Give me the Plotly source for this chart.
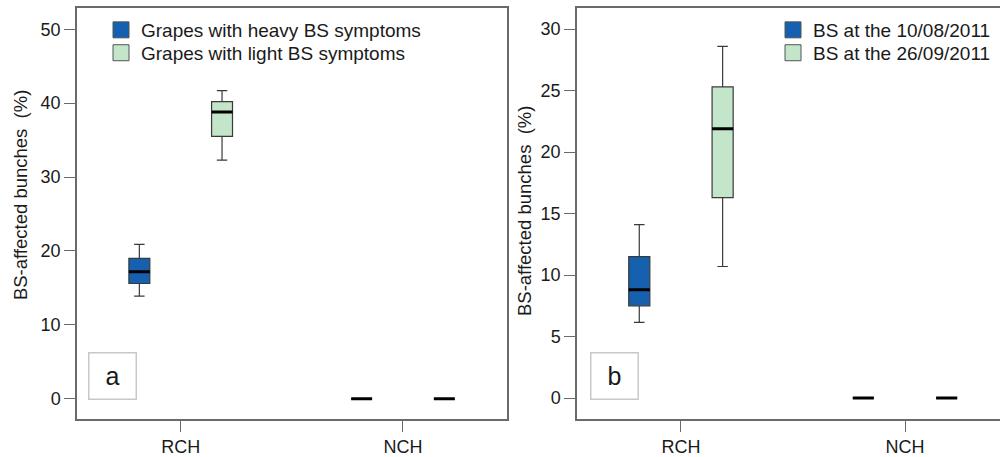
import plotly.graph_objects as go

# ---------------- data ----------------
categories = ["RCH", "NCH"]

# panel a
a_heavy_lower = [13.9, 0]
a_heavy_q1 = [15.6, 0]
a_heavy_median = [17.2, 0]
a_heavy_q3 = [19.0, 0]
a_heavy_upper = [20.9, 0]

a_light_lower = [32.3, 0]
a_light_q1 = [35.5, 0]
a_light_median = [38.8, 0]
a_light_q3 = [40.2, 0]
a_light_upper = [41.7, 0]

# panel b
b_first_lower = [6.15, 0]
b_first_q1 = [7.5, 0]
b_first_median = [8.8, 0]
b_first_q3 = [11.5, 0]
b_first_upper = [14.1, 0]

b_second_lower = [10.7, 0]
b_second_q1 = [16.3, 0]
b_second_median = [21.9, 0]
b_second_q3 = [25.3, 0]
b_second_upper = [28.6, 0]

names_a = ["Grapes with heavy BS symptoms", "Grapes with light BS symptoms"]
names_b = ["BS at the 10/08/2011", "BS at the 26/09/2011"]
y_title = "BS-affected bunches  (%)"
panel_letters = ["a", "b"]

# ---------------- style ----------------
FONT = "Arial, Liberation Sans, sans-serif"
DARK_BLUE = "#1660b0"
LIGHT_GREEN = "#c3e5c9"
OUTLINE = "#3a3a3a"
AXIS = "#6a6a6a"
TXT = "#1a1a1a"

# plot area in pixels (top 8, bottom 421)
TOP, BOTTOM = 8, 421
H_AREA = BOTTOM - TOP


def py(px):
    """pixel row -> paper y (relative to plot area)"""
    return (BOTTOM - px) / H_AREA


fig = go.Figure()


def add_box(name, lo, q1, med, q3, up, color, xa, ya, group, legend):
    fig.add_trace(go.Box(
        name=name, x=categories, lowerfence=lo, q1=q1, median=med, q3=q3,
        upperfence=up, fillcolor=color, line=dict(color=OUTLINE, width=1.2),
        whiskerwidth=0.5, boxpoints=False, xaxis=xa, yaxis=ya,
        offsetgroup=group, showlegend=False, hoverinfo="skip"))
    # thick median line
    fig.add_trace(go.Box(
        x=categories, lowerfence=med, q1=med, median=med, q3=med, upperfence=med,
        fillcolor="rgba(0,0,0,0)", line=dict(color="black", width=3),
        whiskerwidth=0, boxpoints=False, xaxis=xa, yaxis=ya,
        offsetgroup=group, showlegend=False, hoverinfo="skip"))
    # legend entry (square swatch)
    fig.add_trace(go.Scatter(
        name=name, x=[None], y=[None], mode="markers", xaxis=xa, yaxis=ya,
        marker=dict(symbol="square", size=17, color=color,
                    line=dict(color="#555555", width=1)),
        legend=legend, showlegend=True, hoverinfo="skip"))


add_box(names_a[0], a_heavy_lower, a_heavy_q1, a_heavy_median, a_heavy_q3,
        a_heavy_upper, DARK_BLUE, "x", "y", "g1", "legend")
add_box(names_a[1], a_light_lower, a_light_q1, a_light_median, a_light_q3,
        a_light_upper, LIGHT_GREEN, "x", "y", "g2", "legend2")
add_box(names_b[0], b_first_lower, b_first_q1, b_first_median, b_first_q3,
        b_first_upper, DARK_BLUE, "x2", "y2", "g1", "legend3")
add_box(names_b[1], b_second_lower, b_second_q1, b_second_median, b_second_q3,
        b_second_upper, LIGHT_GREEN, "x2", "y2", "g2", "legend4")

axis_common = dict(showline=True, linecolor=AXIS, linewidth=1.5, ticks="outside",
                   ticklen=11, tickwidth=1.3, tickcolor=AXIS, showgrid=False,
                   zeroline=False, tickfont=dict(family=FONT, size=18, color=TXT))


def legend_at(xpx, ytop_px):
    return dict(x=xpx / 1000, y=py(ytop_px), xanchor="left", yanchor="top",
                bgcolor="rgba(0,0,0,0)", font=dict(family=FONT, size=19, color=TXT),
                itemwidth=30, itemsizing="trace", tracegroupgap=0)


fig.update_layout(
    width=1000, height=457,
    margin=dict(l=0, r=0, t=TOP, b=457 - BOTTOM),
    paper_bgcolor="white", plot_bgcolor="white",
    boxmode="group", boxgap=0.256, boxgroupgap=0.747,
    font=dict(family=FONT, color=TXT),
    xaxis=dict(domain=[0.077, 0.507], type="category", categoryorder="array",
               categoryarray=categories, range=[-0.4665, 1.468], mirror=True,
               anchor="y", **axis_common),
    yaxis=dict(domain=[0, 1], range=[-2.733, 52.87], dtick=10, mirror=True,
               anchor="x", **axis_common),
    xaxis2=dict(domain=[0.577, 1.0], type="category", categoryorder="array",
                categoryarray=categories, range=[-0.464, 1.424], mirror=True,
                anchor="y2", **axis_common),
    yaxis2=dict(domain=[0, 1], range=[-1.70, 31.72], dtick=5, mirror=False,
                anchor="x2", **axis_common),
    legend=legend_at(101, 11),
    legend2=legend_at(101, 34),
    legend3=legend_at(773, 11),
    legend4=legend_at(773, 34),
    showlegend=True,
)

# y-axis titles
for cx, cy in ((20, 196), (524, 212)):
    fig.add_annotation(text=y_title, textangle=-90, xref="paper", yref="paper",
                       x=cx / 1000, y=py(cy), xanchor="center", yanchor="middle",
                       showarrow=False, font=dict(family=FONT, size=18.5, color=TXT))

# panel letters
for letter, cx in zip(panel_letters, (112.8, 614.3)):
    fig.add_annotation(text=letter, xref="paper", yref="paper", x=cx / 1000,
                       y=py(377.7), xanchor="center", yanchor="middle",
                       showarrow=False, width=46, height=45, borderpad=0,
                       bordercolor="#c8c8c8", borderwidth=1.5, bgcolor="white",
                       font=dict(family=FONT, size=25, color=TXT))

fig.write_html("out.html")
